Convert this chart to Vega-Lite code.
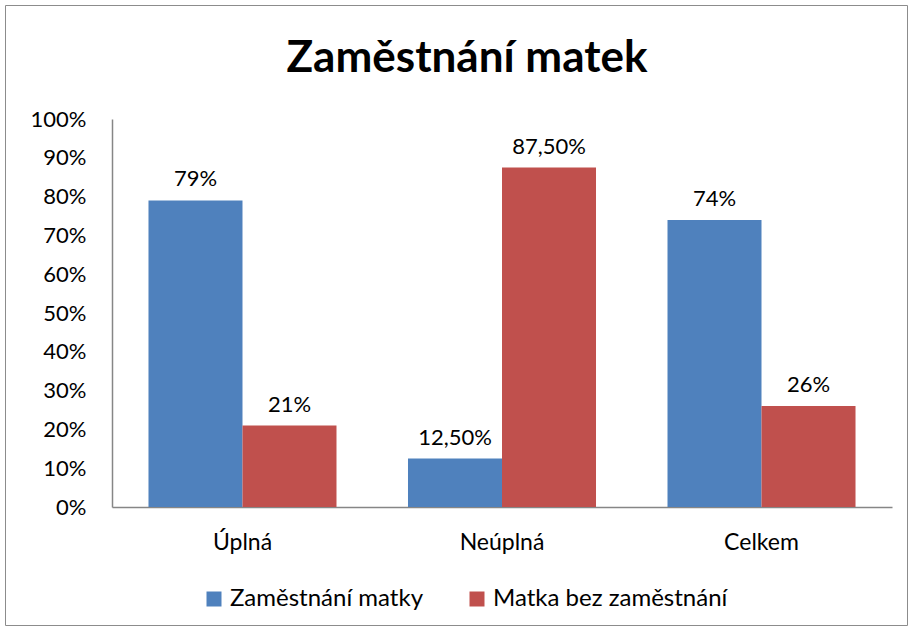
{
  "$schema": "https://vega.github.io/schema/vega-lite/v6.json",
  "width": 902,
  "height": 620,
  "autosize": "none",
  "padding": {"left": 5, "top": 5, "right": 5, "bottom": 7},
  "background": "white",
  "config": {
    "view": {"stroke": "#8c8c8c", "strokeWidth": 1},
    "font": "Lato"
  },
  "title": {
    "text": "Zaměstnání matek",
    "font": "Lato",
    "fontSize": 44,
    "fontWeight": "bold",
    "color": "black",
    "anchor": "middle",
    "frame": "group",
    "orient": "top",
    "baseline": "alphabetic",
    "offset": -111,
    "dx": 11
  },
  "data": {
    "values": [
      {"kategorie": "Úplná", "skupina": "Zaměstnání matky", "hodnota": 0.79, "popisek": "79%"},
      {"kategorie": "Úplná", "skupina": "Matka bez zaměstnání", "hodnota": 0.21, "popisek": "21%"},
      {"kategorie": "Neúplná", "skupina": "Zaměstnání matky", "hodnota": 0.125, "popisek": "12,50%"},
      {"kategorie": "Neúplná", "skupina": "Matka bez zaměstnání", "hodnota": 0.875, "popisek": "87,50%"},
      {"kategorie": "Celkem", "skupina": "Zaměstnání matky", "hodnota": 0.74, "popisek": "74%"},
      {"kategorie": "Celkem", "skupina": "Matka bez zaměstnání", "hodnota": 0.26, "popisek": "26%"}
    ]
  },
  "encoding": {
    "x": {
      "field": "kategorie",
      "type": "nominal",
      "sort": ["Úplná", "Neúplná", "Celkem"],
      "scale": {"range": [107, 887], "paddingInner": 0.2755, "paddingOuter": 0.1406},
      "axis": {
        "title": null,
        "orient": "bottom",
        "offset": -118,
        "ticks": false,
        "labelAngle": 0,
        "labelPadding": 24,
        "labelFontSize": 23,
        "labelColor": "black",
        "labelFont": "Lato",
        "domainColor": "#868686",
        "domainWidth": 1.5
      }
    },
    "xOffset": {
      "field": "skupina",
      "type": "nominal",
      "sort": ["Zaměstnání matky", "Matka bez zaměstnání"],
      "scale": {"paddingInner": 0, "paddingOuter": 0}
    },
    "y": {
      "field": "hodnota",
      "type": "quantitative",
      "scale": {"domain": [0, 1], "range": [502, 114], "nice": false},
      "axis": {
        "title": null,
        "values": [0, 0.1, 0.2, 0.3, 0.4, 0.5, 0.6, 0.7, 0.8, 0.9, 1],
        "format": ".0%",
        "offset": -107,
        "ticks": false,
        "grid": false,
        "labelPadding": 26,
        "labelFontSize": 22,
        "labelColor": "black",
        "labelFont": "Lato",
        "domainColor": "#868686",
        "domainWidth": 1.5
      }
    }
  },
  "layer": [
    {
      "mark": {"type": "bar"},
      "encoding": {
        "color": {
          "field": "skupina",
          "type": "nominal",
          "scale": {
            "domain": ["Zaměstnání matky", "Matka bez zaměstnání"],
            "range": ["#4F81BD", "#C0504D"]
          },
          "legend": {
            "orient": "none",
            "legendX": 197,
            "legendY": 582,
            "direction": "horizontal",
            "title": null,
            "symbolType": "square",
            "symbolSize": 225,
            "symbolStrokeWidth": 0,
            "labelFontSize": 24,
            "labelFont": "Lato",
            "labelColor": "black",
            "labelOffset": 4,
            "columnPadding": 42,
            "labelLimit": 400
          }
        }
      }
    },
    {
      "mark": {"type": "text", "baseline": "alphabetic", "dy": -14, "fontSize": 22, "font": "Lato", "color": "black"},
      "encoding": {"text": {"field": "popisek"}}
    }
  ]
}
